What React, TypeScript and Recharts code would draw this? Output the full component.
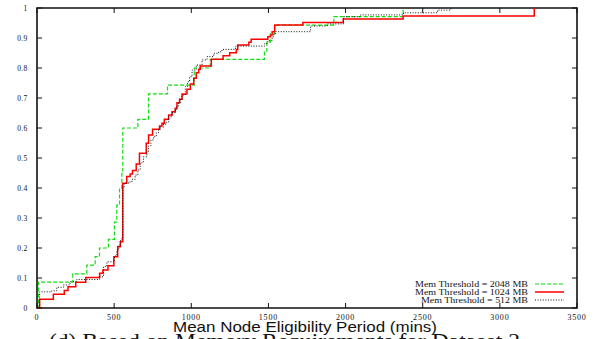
import { LineChart, Line, XAxis, YAxis, ReferenceArea } from 'recharts';

// step CDF points (x = mins, y = fraction of nodes)
const mem2048X = [0, 10, 232, 323, 377, 405, 463, 502, 517, 535, 550, 556, 654, 723, 846, 1019, 1123, 1474, 1490, 1513, 1539, 1924, 2373];
const mem2048Y = [0, 0.086, 0.114, 0.143, 0.171, 0.2, 0.229, 0.286, 0.343, 0.4, 0.457, 0.6, 0.629, 0.714, 0.743, 0.8, 0.829, 0.857, 0.886, 0.914, 0.943, 0.971, 1];

const mem1024X = [0, 17, 106, 177, 201, 251, 316, 406, 427, 460, 498, 523, 540, 556, 582, 604, 619, 643, 664, 708, 723, 749, 794, 810, 825, 853, 875, 896, 907, 924, 940, 972, 994, 1016, 1032, 1048, 1058, 1130, 1206, 1249, 1292, 1301, 1373, 1388, 1496, 1513, 1524, 1541, 1723, 1985, 2373, 3223];
const mem1024Y = [0, 0.029, 0.046, 0.058, 0.071, 0.086, 0.102, 0.116, 0.127, 0.141, 0.171, 0.204, 0.221, 0.416, 0.438, 0.447, 0.458, 0.48, 0.516, 0.549, 0.577, 0.596, 0.607, 0.616, 0.629, 0.643, 0.654, 0.666, 0.684, 0.696, 0.713, 0.729, 0.747, 0.766, 0.784, 0.796, 0.807, 0.829, 0.841, 0.851, 0.862, 0.877, 0.886, 0.896, 0.904, 0.91, 0.921, 0.943, 0.952, 0.963, 0.973, 1];

const mem512X = [0, 17, 95, 128, 171, 214, 258, 405, 431, 453, 502, 517, 530, 543, 550, 556, 565, 593, 615, 636, 654, 669, 680, 690, 712, 723, 738, 755, 773, 788, 799, 820, 838, 853, 875, 896, 907, 918, 929, 940, 961, 976, 989, 1005, 1032, 1070, 1102, 1145, 1178, 1199, 1286, 1476, 1496, 1524, 1535, 1545, 1773, 1881, 1987, 2097, 2375, 2596, 2682];
const mem512Y = [0, 0.054, 0.057, 0.069, 0.077, 0.088, 0.095, 0.104, 0.138, 0.154, 0.173, 0.193, 0.21, 0.227, 0.233, 0.404, 0.416, 0.42, 0.429, 0.443, 0.46, 0.48, 0.487, 0.504, 0.521, 0.54, 0.56, 0.571, 0.584, 0.596, 0.603, 0.613, 0.62, 0.638, 0.651, 0.662, 0.673, 0.684, 0.696, 0.71, 0.738, 0.754, 0.771, 0.793, 0.81, 0.827, 0.838, 0.849, 0.854, 0.862, 0.873, 0.882, 0.891, 0.904, 0.913, 0.921, 0.94, 0.947, 0.971, 0.977, 0.984, 0.993, 1];

const xTicks = [0, 500, 1000, 1500, 2000, 2500, 3000, 3500];
const yTicks = [0, 0.1, 0.2, 0.3, 0.4, 0.5, 0.6, 0.7, 0.8, 0.9, 1];

const xTitle = 'Mean Node Eligibility Period (mins)';
const caption = '(d) Based on Memory Requirements for Dataset 2';

const zip = (xs: number[], ys: number[]) => xs.map((x, i) => ({ x, y: ys[i] }));

const series = [
  { name: 'Mem Threshold = 2048 MB', data: zip(mem2048X, mem2048Y), color: '#11dd11', width: 1.2, dash: '4 2', textLen: 113 },
  { name: 'Mem Threshold = 1024 MB', data: zip(mem1024X, mem1024Y), color: '#ff0000', width: 1.5, dash: undefined, textLen: 113 },
  { name: 'Mem Threshold = 512 MB', data: zip(mem512X, mem512Y), color: '#111111', width: 1, dash: '1 1.6', textLen: 107 },
];

const W = 594;
const H = 339;
const PLOT = { left: 37, right: 577, top: 8, bottom: 308 };
const INK = '#111';
const SERIF = '"Liberation Serif", "DejaVu Serif", serif';
const SANS = '"Liberation Sans", Arial, sans-serif';

function XTick({ x, payload }: any) {
  return (
    <g>
      <line x1={x} x2={x} y1={PLOT.bottom} y2={PLOT.bottom - 5} stroke={INK} />
      <line x1={x} x2={x} y1={PLOT.top} y2={PLOT.top + 5} stroke={INK} />
      <text x={x} y={319.5} textAnchor="middle" fontSize={8} letterSpacing={0.8} fontFamily={SERIF} fill={INK}>
        {payload.value}
      </text>
    </g>
  );
}

function YTick({ y, payload }: any) {
  const v = payload.value;
  const label = v === 0 || v === 1 ? String(v) : v.toFixed(1);
  return (
    <g>
      <line x1={PLOT.left} x2={PLOT.left + 5} y1={y} y2={y} stroke={INK} />
      <line x1={PLOT.right} x2={PLOT.right - 5} y1={y} y2={y} stroke={INK} />
      <text x={27.5} y={y + 2.6} textAnchor="end" fontSize={7.5} letterSpacing={0.3} fontFamily={SERIF} fill={INK}>
        {label}
      </text>
    </g>
  );
}

export default function App() {
  return (
    <div style={{ position: 'absolute', left: 0, top: 0, width: W, height: H, background: '#fff', overflow: 'hidden' }}>
      <LineChart width={W} height={H} margin={{ top: 8, right: 17, left: 0, bottom: 0 }}>
        <XAxis
          type="number"
          dataKey="x"
          domain={[0, 3500]}
          ticks={xTicks}
          interval={0}
          height={31}
          axisLine={false}
          tickLine={false}
          tick={<XTick />}
        />
        <YAxis
          type="number"
          dataKey="y"
          domain={[0, 1]}
          ticks={yTicks}
          interval={0}
          width={37}
          axisLine={false}
          tickLine={false}
          tick={<YTick />}
        />
        <ReferenceArea x1={0} x2={3500} y1={0} y2={1} fill="none" stroke={INK} strokeWidth={1.6} />
        {series.map(s => (
          <Line
            key={s.name}
            name={s.name}
            data={s.data}
            dataKey="y"
            type="stepAfter"
            stroke={s.color}
            strokeWidth={s.width}
            strokeDasharray={s.dash}
            dot={false}
            activeDot={false}
            isAnimationActive={false}
          />
        ))}
      </LineChart>
      <svg width={W} height={H} style={{ position: 'absolute', left: 0, top: 0, pointerEvents: 'none' }}>
        {series.map((s, i) => {
          const cy = 284 + i * 8;
          return (
            <g key={s.name}>
              <text x={528} y={cy + 2.6} textAnchor="end" fontSize={7.5} fontFamily={SERIF} fill={INK}
                textLength={s.textLen} lengthAdjust="spacingAndGlyphs">
                {s.name}
              </text>
              <line x1={535} x2={564} y1={cy} y2={cy} stroke={s.color} strokeWidth={s.width} strokeDasharray={s.dash} />
            </g>
          );
        })}
        <text x={305} y={332} textAnchor="middle" fontSize={14} fontFamily={SANS} fill={INK}
          textLength={264} lengthAdjust="spacingAndGlyphs">
          {xTitle}
        </text>
        <text x={49} y={347.5} fontSize={20} fontFamily={SERIF} fill={INK}
          textLength={471} lengthAdjust="spacingAndGlyphs">
          {caption}
        </text>
      </svg>
    </div>
  );
}
